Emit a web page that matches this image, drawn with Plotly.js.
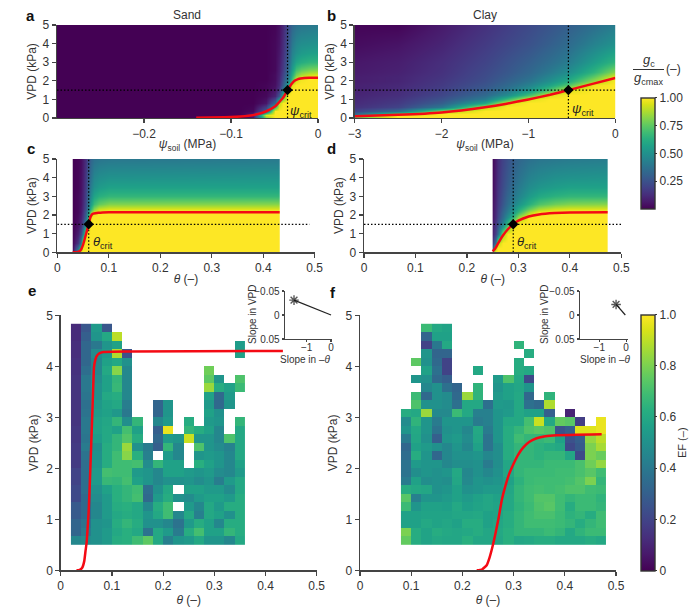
<!DOCTYPE html>
<html><head><meta charset="utf-8">
<script src="https://cdn.plot.ly/plotly-3.0.1.min.js"></script>
<style>html,body{margin:0;padding:0;background:#fff}</style></head>
<body><div id="chart" style="width:700px;height:610px"></div>
<script>
// ---------- critical points ----------
const vpdCrit = 1.5;
const psiCritSand = -0.035, psiCritClay = -0.54, thetaCritSand = 0.061, thetaCritClay = 0.29;

// ---------- panel a: sand, psi ----------
const aX = [-0.30,-0.12,-0.09,-0.075,-0.06,-0.05,-0.045,-0.04,-0.035,-0.03,-0.025,-0.02,-0.01,0];
const aY = [0,0.15,0.4,0.8,1.2,1.5,1.8,2.1,2.3,2.6,3,3.5,4,5];
const aZ = [
[0,0,0,.04,.8,1,1,1,1,1,1,1,1,1],
[0,0,0,.1,.95,1,1,1,1,1,1,1,1,1],
[0,0,0,.02,.3,1,1,1,1,1,1,1,1,1],
[0,0,0,0,.06,.35,.9,1,1,1,1,1,1,1],
[0,0,0,0,.02,.1,.28,.7,1,1,1,1,1,1],
[0,0,0,0,.01,.06,.16,.42,.9,1,1,1,1,1],
[0,0,0,0,.01,.04,.12,.3,.55,.95,1,1,1,1],
[0,0,0,0,0,.03,.1,.24,.42,.7,.92,.98,1,1],
[0,0,0,0,0,.03,.09,.21,.38,.62,.8,.88,.93,.95],
[0,0,0,0,0,.02,.08,.18,.34,.55,.7,.76,.8,.82],
[0,0,0,0,0,.02,.07,.16,.31,.48,.58,.62,.65,.66],
[0,0,0,0,0,.02,.06,.14,.28,.44,.5,.54,.56,.57],
[0,0,0,0,0,.02,.05,.13,.26,.4,.46,.49,.5,.51],
[0,0,0,0,0,.01,.04,.11,.23,.33,.37,.39,.4,.41]];
const aCurveX = [-0.14,-0.1,-0.08,-0.07,-0.06,-0.05,-0.04,-0.035,-0.03,-0.027,-0.023,-0.02,-0.01,0];
const aCurveY = [0.02,0.05,0.12,0.2,0.35,0.6,1.1,1.5,1.85,2.0,2.09,2.12,2.16,2.17];

// ---------- panel b: clay, psi ----------
const bX = [-3,-2.5,-2,-1.5,-1.25,-1,-.75,-.54,-.25,0];
const bY = [0,.1,.2,.35,.6,.8,1,1.25,1.5,1.75,2,2.2,2.5,3,4,5];
const bZ = [
[.7,1,1,1,1,1,1,1,1,1],
[.8,1,1,1,1,1,1,1,1,1],
[.35,.85,1,1,1,1,1,1,1,1],
[.2,.35,.85,1,1,1,1,1,1,1],
[.14,.2,.4,.9,1,1,1,1,1,1],
[.12,.17,.3,.6,.95,1,1,1,1,1],
[.11,.15,.25,.42,.68,.95,1,1,1,1],
[.1,.13,.21,.34,.48,.7,.95,1,1,1],
[.09,.12,.19,.29,.39,.52,.72,.95,1,1],
[.09,.11,.17,.26,.34,.44,.58,.74,.98,1],
[.08,.1,.16,.24,.31,.39,.5,.62,.85,1],
[.08,.1,.15,.23,.29,.36,.46,.56,.76,.97],
[.07,.09,.14,.22,.27,.33,.41,.49,.65,.83],
[.06,.08,.13,.2,.25,.3,.36,.42,.55,.66],
[.03,.05,.1,.17,.21,.25,.3,.35,.44,.51],
[.01,.01,.07,.14,.18,.22,.26,.3,.36,.42]];
const bCurveX = [-3,-2.5,-2,-1.5,-1.25,-1,-.75,-.54,-.25,0];
const bCurveY = [.1,.17,.3,.58,.77,1,1.25,1.5,1.85,2.15];

// ---------- panel c: sand, theta ----------
const cX = [.03,.04,.045,.05,.055,.06,.065,.07,.08,.1,.432];
const cY = [0,.5,1,1.5,1.9,2.15,2.3,2.6,3,3.5,4,5];
const cZ = [
[.05,.5,1,1,1,1,1,1,1,1,1],
[.02,.15,.4,.95,1,1,1,1,1,1,1],
[.01,.08,.2,.45,.9,1,1,1,1,1,1],
[0,.04,.1,.22,.5,.9,1,1,1,1,1],
[0,.03,.08,.16,.33,.6,.98,1,1,1,1],
[0,.02,.06,.14,.28,.5,.8,.95,1,1,1],
[0,.02,.06,.12,.25,.42,.65,.82,.92,.95,.95],
[0,.02,.05,.11,.22,.37,.55,.68,.76,.81,.82],
[0,.02,.05,.1,.2,.33,.47,.58,.63,.66,.66],
[0,.01,.04,.09,.18,.3,.42,.5,.54,.57,.57],
[0,.01,.04,.08,.17,.28,.38,.46,.49,.51,.52],
[0,.01,.03,.07,.14,.24,.32,.37,.39,.4,.41]];
const cCurveX = [.03,.04,.045,.05,.055,.061,.064,.067,.07,.08,.1,.432];
const cCurveY = [0,.02,.1,.4,.9,1.5,1.85,2.02,2.07,2.12,2.15,2.15];

// ---------- panel d: clay, theta ----------
const dX = [.25,.255,.26,.27,.28,.29,.30,.32,.34,.37,.40,.4735];
const dY = [0,.25,.5,1,1.5,1.9,2.15,2.3,2.6,3,3.5,4,5];
const dZ = [
[.9,1,1,1,1,1,1,1,1,1,1,1],
[.3,.9,1,1,1,1,1,1,1,1,1,1],
[.18,.4,.9,1,1,1,1,1,1,1,1,1],
[.1,.2,.35,.85,1,1,1,1,1,1,1,1],
[.08,.16,.25,.44,.7,.97,1,1,1,1,1,1],
[.06,.13,.21,.35,.5,.67,.85,1,1,1,1,1],
[.06,.12,.19,.32,.43,.56,.68,.87,.98,1,1,1],
[.05,.12,.18,.3,.4,.51,.61,.76,.87,.93,.95,.95],
[.05,.11,.17,.27,.36,.45,.52,.63,.72,.78,.81,.82],
[.04,.1,.16,.25,.33,.4,.45,.54,.6,.64,.66,.66],
[.03,.1,.15,.23,.3,.37,.41,.48,.52,.55,.57,.57],
[.03,.09,.14,.22,.28,.34,.38,.44,.47,.5,.51,.52],
[.02,.08,.13,.2,.25,.3,.33,.37,.39,.4,.41,.42]];
const dCurveX = [.25,.255,.26,.27,.28,.29,.30,.32,.34,.37,.40,.4735];
const dCurveY = [.05,.2,.45,.9,1.25,1.5,1.7,1.92,2.03,2.1,2.13,2.14];

// ---------- panels e / f: rows listed from the top (VPD 4.75) to the bottom (VPD 0.58) ----------
const _ = null;
const cellVpd = [4.75,4.583,4.417,4.25,4.083,3.917,3.75,3.583,3.417,3.25,3.083,2.917,2.75,2.583,2.417,2.25,2.083,1.917,1.75,1.583,1.417,1.25,1.083,.917,.75,.583];
const eTheta = [.03,.05,.07,.09,.11,.13,.15,.17,.19,.21,.23,.25,.27,.29,.31,.33,.35];
const eEF = [
[.12,.27,.54,.27,_,_,_,_,_,_,_,_,_,_,_,_,_],
[.12,.3,.52,.6,.9,_,_,_,_,_,_,_,_,_,_,_,_],
[.13,.33,.4,.52,.57,_,_,_,_,_,_,_,_,_,_,_,.55],
[.13,.33,.48,.54,.88,.25,_,_,_,_,_,_,_,_,_,_,.57],
[.14,.33,.46,.57,.6,.5,_,_,_,_,_,_,_,_,_,_,_],
[.14,.36,.46,.6,.82,.46,_,_,_,_,_,_,_,.78,_,_,_],
[.15,.4,.48,.57,.66,.46,_,_,_,_,_,_,_,.75,.52,_,.72],
[.15,.4,.5,.57,.67,.46,_,_,_,_,_,_,_,.85,.62,.57,.68],
[.15,.39,.5,.6,.62,.46,_,_,_,_,_,_,_,.57,.34,.54,_],
[.15,.37,.53,.58,.6,.42,_,_,.32,.52,_,_,_,.54,.34,.52,_],
[.15,.38,.55,.57,.53,.4,_,_,.32,.52,_,_,_,.57,.5,_,_],
[.15,.4,.57,.59,.66,.49,.66,_,.46,.54,_,.62,_,.54,.52,_,.66],
[.16,.4,.57,.6,.57,.7,.57,_,.3,.97,_,.66,.62,.57,.46,_,.6],
[.16,.39,.55,.6,.66,.73,.62,_,.33,.54,.52,.92,.52,.52,.46,.72,.6],
[.17,.41,.49,.62,.66,.85,.5,.41,.3,.66,.46,_,.72,.52,.48,.44,.6],
[.17,.38,.5,.62,.69,.82,.63,.43,_,.54,.46,_,.52,.54,.52,.46,.6],
[.17,.36,.52,.62,.69,.69,.7,.48,.66,.57,.57,_,.63,.57,.52,.46,.57],
[.2,.36,.54,.7,.69,.69,.54,.52,.46,.57,.57,.54,.52,.54,.48,.46,.54],
[.2,.36,.54,.67,.66,.7,.57,.52,.46,.5,.5,.52,.48,.52,.42,.54,.6],
[.22,.36,.5,.57,.63,.66,.69,.36,.5,.6,_,.57,.57,.54,.54,.48,.6],
[.22,.34,.48,.54,.63,.66,.7,.34,.54,.62,.5,.48,.54,.57,.57,.54,.62],
[.28,.34,.46,.54,.62,.63,.6,.46,.62,.69,_,.54,.46,.6,.54,.62,.62],
[.28,.34,.46,.54,.6,.62,.6,.52,.6,.69,.46,.6,.43,.6,.57,.5,.62],
[.32,.38,.5,.52,.62,.66,.62,.5,.5,.46,.38,.54,.62,.57,.46,.62,.62],
[.32,.41,.5,.54,.6,.63,.6,.38,.6,.54,.41,.62,.7,.57,.57,.66,.62],
[.46,.48,.5,.54,.62,.63,.69,.75,.6,.43,.52,.54,.6,.52,.52,.46,.6]];
const fTheta = [.09,.11,.13,.15,.17,.19,.21,.23,.25,.27,.29,.31,.33,.35,.37,.39,.41,.43,.45,.47];
const fEF = [
[_,_,.68,.6,.58,_,_,_,_,_,_,_,_,_,_,_,_,_,_,_],
[_,_,.32,.57,.57,_,_,_,_,_,_,_,_,_,_,_,_,_,_,_],
[_,_,.2,.4,.6,_,_,_,_,_,_,.65,_,_,_,_,_,_,_,_],
[_,_,.52,.32,.32,_,_,_,_,_,_,_,.62,_,_,_,_,_,_,_],
[_,.75,.5,.34,.2,_,_,_,_,_,_,.62,_,_,_,_,_,_,_,_],
[_,_,.57,.37,.2,_,_,.6,_,_,_,.62,.6,_,_,_,_,_,_,_],
[_,.52,.5,.34,.3,_,_,_,_,.54,.72,.6,.22,_,_,_,_,_,_,_],
[_,_,.46,.5,.37,.32,_,.65,_,.52,.57,.59,.52,_,_,_,_,_,_,_],
[_,.68,.34,.5,.48,.34,.85,.65,_,.54,.57,.6,.33,_,.65,_,_,_,_,_],
[_,.72,.5,.5,.48,.37,.6,.6,.37,.54,.53,.6,.37,.34,.88,_,_,_,_,_],
[.62,.6,.85,.47,.47,.68,.6,.43,.43,.52,.54,.6,.57,.57,.3,_,.1,_,_,_],
[.48,.65,.52,.41,.52,.52,.52,.41,.43,.52,.6,.6,.7,.92,.6,.76,.74,.18,_,.97],
[.52,.6,.52,.38,.5,.52,.46,.6,.41,.52,.62,.66,.72,.74,.72,.25,.3,.95,.95,.97],
[.41,.59,.5,.3,.52,.54,.48,.59,.38,.52,.62,.69,.66,.66,.68,.57,.25,.3,.84,.9],
[.33,.57,.54,.5,.46,.52,.46,.57,.38,.49,.62,.66,.66,.64,.62,.6,.22,.28,.8,.87],
[.35,.62,.52,.33,.46,.5,.5,.52,.46,.49,.62,.66,.66,.64,.66,.66,.59,.22,.8,.77],
[.38,.54,.52,.52,.46,.49,.49,.5,.41,.49,.59,.66,.66,.66,.68,.68,.68,.71,.78,.84],
[.38,.49,.52,.5,.52,.6,.46,.5,.46,.5,.59,.66,.68,.68,.68,.69,.69,.71,.74,.69],
[.41,.57,.49,.5,.49,.59,.47,.52,.5,.52,.57,.64,.68,.69,.69,.69,.7,.73,.8,.66],
[.62,.6,.59,.5,.52,.57,.5,.52,.54,.54,.59,.66,.69,.7,.69,.7,.72,.72,.69,.68],
[.74,.43,.52,.52,.54,.57,.54,.57,.59,.57,.6,.66,.69,.73,.73,.69,.66,.68,.68,.65],
[.68,.52,.57,.57,.56,.6,.56,.58,.59,.58,.6,.65,.68,.72,.74,.69,.62,.68,.68,.66],
[.57,.57,.58,.58,.58,.59,.59,.6,.57,.58,.62,.66,.69,.71,.71,.68,.64,.66,.62,.69],
[.57,.57,.6,.58,.59,.57,.62,.62,.57,.59,.62,.66,.69,.69,.69,.68,.66,.62,.66,.69],
[.8,.62,.58,.62,.6,.59,.6,.62,.59,.6,.63,.66,.66,.66,.68,.66,.6,.65,.68,.68],
[.76,.62,.58,.6,.59,.59,.63,.59,.59,.59,.63,.59,.6,.62,.62,.6,.6,.6,.62,.6]];
const eCurveX = [.031,.037,.042,.046,.0485,.0507,.0546,.0573,.062,.0651,.0675,.0697,.075,.083,.135,.434];
const eCurveY = [0,.01,.05,.18,.38,.55,1.15,1.83,3.14,3.99,4.12,4.19,4.25,4.28,4.29,4.3];
const fCurveX = [.228,.238,.2474,.253,.2604,.27,.277,.283,.291,.2995,.309,.319,.331,.345,.362,.384,.472];
const fCurveY = [0,.015,.1,.25,.53,.99,1.38,1.62,1.88,2.08,2.27,2.41,2.52,2.59,2.63,2.65,2.67];

// ---------- insets ----------
const eSlopeTheta = [-1.52,0], eSlopeVpd = [-0.031,0];
const fSlopeTheta = [-0.375,-0.03], fSlopeVpd = [-0.022,0];

// ---------- ticks ----------
const vpdTicks = [0,1,2,3,4,5];
const thetaTicks = [0,.1,.2,.3,.4,.5];
const W = 700, H = 610;
const FONT = 'Liberation Sans, Arial, sans-serif', INK = '#333333', RED = '#f40a14';
const FS = 12;
const hd = (a,b) => [a/W,b/W], vd = (t,b) => [1-b/H,1-t/H];
const px = v => v/W, py = v => 1-v/H;

// keep a smooth grid from spilling half a cell past its first/last sample
function padAxis(a){const e=1e-6*Math.abs(a[a.length-1]-a[0]);return [a[0],a[0]+e,...a.slice(1,-1),a[a.length-1]-e,a[a.length-1]];}
function padZ(z){const rows=z.map(r=>[r[0],...r,r[r.length-1]]);return [rows[0],...rows,rows[rows.length-1]];}

function axis(dom,range,anchor,extra){
  return Object.assign({domain:dom,range:range,anchor:anchor,showgrid:false,zeroline:false,showline:true,
    linecolor:'#444',linewidth:1.4,ticks:'outside',ticklen:4,tickwidth:1.2,tickcolor:'#444',
    tickfont:{family:FONT,size:FS,color:INK},automargin:false},extra||{});
}
const axT = (t,s) => ({text:t,font:{family:FONT,size:FS,color:INK},standoff:s});
const TH = '<i>θ</i> (–)', PS = '<i>ψ</i><sub>soil</sub> (MPa)', VP = 'VPD (kPa)';
const SMALL = {family:FONT,size:10,color:INK};

const layout = {width:W,height:H,margin:{l:0,r:0,t:0,b:0},paper_bgcolor:'#fff',plot_bgcolor:'rgba(255,255,255,0)',showlegend:false,
  font:{family:FONT,color:INK,size:FS},
  coloraxis:{cmin:0,cmax:1,colorscale:'Viridis',colorbar:{x:640.7/W,xanchor:'left',xpad:0,ypad:0,thickness:14,thicknessmode:'pixels',
    lenmode:'fraction',len:(208.8-98.3)/H,y:py(208.8),yanchor:'bottom',outlinecolor:INK,outlinewidth:1.4,
    tickvals:[.25,.5,.75,1],ticktext:['0.25','0.50','0.75','1.00'],ticks:'outside',ticklen:2,tickcolor:INK,tickfont:{family:FONT,size:FS,color:INK}}},
  coloraxis2:{cmin:0,cmax:1,colorscale:'Viridis',colorbar:{x:640.7/W,xanchor:'left',xpad:0,ypad:0,thickness:14,thicknessmode:'pixels',
    lenmode:'fraction',len:255.5/H,y:py(570.5),yanchor:'bottom',outlinecolor:INK,outlinewidth:1.4,
    tickvals:[0,.2,.4,.6,.8,1],ticktext:['0','0.2','0.4','0.6','0.8','1.0'],ticks:'outside',ticklen:2,tickcolor:INK,tickfont:{family:FONT,size:FS,color:INK}}},
  xaxis:axis(hd(57,318),[-0.3,0],'y',{tickvals:[-0.2,-0.1,0],title:axT(PS,0)}),
  yaxis:axis(vd(25,118),[0,5],'x',{tickvals:vpdTicks,title:axT(VP,3)}),
  xaxis2:axis(hd(354.7,615.3),[-3,0],'y2',{tickvals:[-3,-2,-1,0],title:axT(PS,0)}),
  yaxis2:axis(vd(25,118),[0,5],'x2',{tickvals:vpdTicks,title:axT(VP,3)}),
  xaxis3:axis(hd(57.3,314.7),[0,.5],'y3',{tickvals:thetaTicks,title:axT(TH,0)}),
  yaxis3:axis(vd(159,252.3),[0,5],'x3',{tickvals:vpdTicks,title:axT(VP,3)}),
  xaxis4:axis(hd(364,621.3),[0,.5],'y4',{tickvals:thetaTicks,title:axT(TH,0)}),
  yaxis4:axis(vd(159,252.3),[0,5],'x4',{tickvals:vpdTicks,title:axT(VP,3)}),
  xaxis5:axis(hd(60.7,316.7),[0,.5],'y5',{tickvals:thetaTicks,title:axT(TH,3)}),
  yaxis5:axis(vd(315.3,570.3),[0,5],'x5',{tickvals:vpdTicks,title:axT(VP,5)}),
  xaxis6:axis(hd(360,616),[0,.5],'y6',{tickvals:thetaTicks,title:axT(TH,3)}),
  yaxis6:axis(vd(315.3,570.3),[0,5],'x6',{tickvals:vpdTicks,title:axT(VP,5)}),
  xaxis7:axis(hd(285,332),[-1.89,0.04],'y7',{tickvals:[-1,0],ticklen:2,ticklabelstandoff:-3,tickfont:SMALL}),
  yaxis7:axis(vd(291,339),[0.05,-0.05],'x7',{tickvals:[-0.05,0,0.05],ticktext:['−0.05','0','0.05'],ticklen:2,tickfont:SMALL}),
  xaxis8:axis(hd(580,628),[-1.72,0.07],'y8',{tickvals:[-1,0],ticklen:2,ticklabelstandoff:-3,tickfont:SMALL}),
  yaxis8:axis(vd(291,339),[0.05,-0.05],'x8',{tickvals:[-0.05,0,0.05],ticktext:['−0.05','0','0.05'],ticklen:2,tickfont:SMALL}),
  annotations:[],shapes:[
    {type:'line',xref:'paper',yref:'paper',x0:px(633),x1:px(664),y0:py(69.5),y1:py(69.5),line:{color:INK,width:1}}
  ]
};
function paperText(text,x,y,size,bold,angle){
  layout.annotations.push({xref:'paper',yref:'paper',x:px(x),y:py(y),text:bold?'<b>'+text+'</b>':text,showarrow:false,
    xanchor:'center',yanchor:'middle',textangle:angle||0,font:{family:FONT,size:size,color:bold?'#111':INK}});
}
[['a',31,15],['b',331,15],['c',31,148],['d',331,148],['e',32,290],['f',333,292]].forEach(l=>paperText(l[0],l[1],l[2],15,true));
paperText('Sand',187,15,12); paperText('Clay',485,15,12);
paperText('<i>g</i><sub>c</sub>',649,60,13); paperText('<i>g</i><sub>cmax</sub>',648,79,13); paperText('(–)',673,69,12);
paperText('EF (–)',682,443,11,false,-90);
paperText('Slope in VPD',252,315,10,false,-90); paperText('Slope in –<i>θ</i>',305,359,10);
paperText('Slope in VPD',544,315,10,false,-90); paperText('Slope in –<i>θ</i>',605,359,10);
function dataText(text,x,y,xr,yr){layout.annotations.push({xref:xr,yref:yr,x:x,y:y,text:text,showarrow:false,xanchor:'left',yanchor:'middle',font:{family:FONT,size:13,color:'#222'}});}
dataText('<i>ψ</i><sub>crit</sub>',psiCritSand+0.0005,0.35,'x','y');
dataText('<i>ψ</i><sub>crit</sub>',psiCritClay+0.015,0.45,'x2','y2');
dataText('<i>θ</i><sub>crit</sub>',thetaCritSand+0.004,0.5,'x3','y3');
dataText('<i>θ</i><sub>crit</sub>',thetaCritClay+0.004,0.5,'x4','y4');

const traces = [];
function smooth(x,y,z,s){traces.push({type:'heatmap',x:padAxis(x),y:padAxis(y),z:padZ(z),zsmooth:'best',coloraxis:'coloraxis',xaxis:'x'+s,yaxis:'y'+s,hoverinfo:'skip'});}
function cells(x,y,z,s){traces.push({type:'heatmap',x:x,y:y,z:z,coloraxis:'coloraxis2',xaxis:'x'+s,yaxis:'y'+s,hoverinfo:'skip'});}
function red(x,y,s){traces.push({type:'scatter',mode:'lines',x:x,y:y,line:{color:RED,width:2.5,shape:'spline',smoothing:0.4},xaxis:'x'+s,yaxis:'y'+s,hoverinfo:'skip',cliponaxis:false});}
function dotted(x,y,s){traces.push({type:'scatter',mode:'lines',x:x,y:y,line:{color:'#000',width:1.2,dash:'1.5px,2px'},xaxis:'x'+s,yaxis:'y'+s,hoverinfo:'skip'});}
function diamond(x,y,s){traces.push({type:'scatter',mode:'markers',x:[x],y:[y],marker:{symbol:'diamond',size:8,color:'#000'},xaxis:'x'+s,yaxis:'y'+s,hoverinfo:'skip'});}

smooth(aX,aY,aZ,''); smooth(bX,bY,bZ,'2'); smooth(cX,cY,cZ,'3'); smooth(dX,dY,dZ,'4');
cells(eTheta,cellVpd,eEF,'5'); cells(fTheta,cellVpd,fEF,'6');

const panels = [
 ['',aCurveX,aCurveY,psiCritSand,[-0.3,0]],
 ['2',bCurveX,bCurveY,psiCritClay,[-3,0]],
 ['3',cCurveX,cCurveY,thetaCritSand,[0,.49]],
 ['4',dCurveX,dCurveY,thetaCritClay,[0,.5]]];
panels.forEach(p=>{dotted(p[4],[vpdCrit,vpdCrit],p[0]);dotted([p[3],p[3]],[0,5],p[0]);red(p[1],p[2],p[0]);diamond(p[3],vpdCrit,p[0]);});
red(eCurveX,eCurveY,'5'); red(fCurveX,fCurveY,'6');
function inset(x,y,s){traces.push({type:'scatter',mode:'lines+markers',x:x,y:y,line:{color:'#222',width:1.2},
  marker:{symbol:'asterisk-open',size:[8,0],color:'#111',line:{color:'#111',width:1.4}},xaxis:'x'+s,yaxis:'y'+s,hoverinfo:'skip'});}
inset(eSlopeTheta,eSlopeVpd,'7'); inset(fSlopeTheta,fSlopeVpd,'8');

Plotly.newPlot('chart',traces,layout,{staticPlot:true,displayModeBar:false});
</script></body></html>
